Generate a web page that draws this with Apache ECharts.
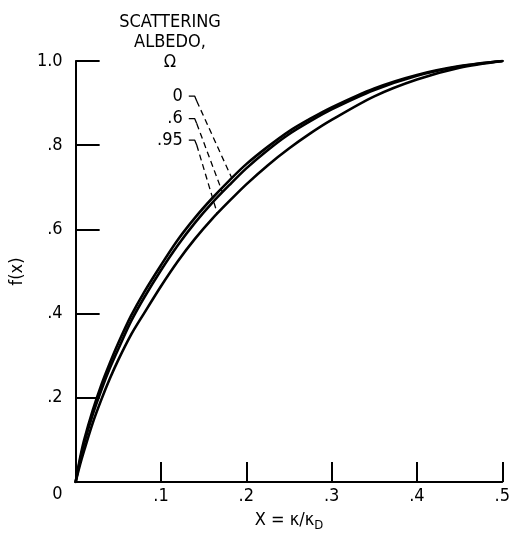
<!DOCTYPE html>
<html>
<head>
<meta charset="utf-8">
<script src="https://cdn.jsdelivr.net/npm/echarts@6/dist/echarts.min.js"></script>
<style>
html,body{margin:0;padding:0;background:#fff;}
#c{width:513px;height:537px;}
</style>
</head>
<body>
<div id="c"></div>
<script>
// ---- data ----
var xValues   = [0, 0.005, 0.01, 0.02, 0.03, 0.04, 0.05, 0.065, 0.08, 0.1, 0.12, 0.14, 0.16, 0.18, 0.2, 0.225, 0.25, 0.275, 0.3, 0.35, 0.4, 0.45, 0.5];
var fOmega0   = [0, 0.055, 0.1, 0.17, 0.23, 0.282, 0.33, 0.395, 0.45, 0.515, 0.576, 0.628, 0.674, 0.716, 0.755, 0.796, 0.833, 0.863, 0.89, 0.935, 0.967, 0.988, 1.0];
var fOmega06  = [0, 0.05, 0.092, 0.16, 0.218, 0.27, 0.316, 0.382, 0.437, 0.503, 0.563, 0.616, 0.663, 0.705, 0.745, 0.788, 0.826, 0.857, 0.885, 0.931, 0.965, 0.987, 1.0];
var fOmega095 = [0, 0.04, 0.075, 0.14, 0.195, 0.245, 0.29, 0.35, 0.40, 0.465, 0.525, 0.578, 0.625, 0.667, 0.707, 0.752, 0.792, 0.828, 0.86, 0.916, 0.956, 0.984, 1.0];
var seriesNames = ['0', '.6', '.95'];
var leaderEndX   = [0.183, 0.172, 0.166];    // where each dashed leader meets its curve
var leaderStartX = [0.1326, 0.1326, 0.1326]; // label hook start (data units)
var leaderStartY = [0.9165, 0.863, 0.812];
var xTicks = [0, 0.1, 0.2, 0.3, 0.4, 0.5];
var yTicks = [0, 0.2, 0.4, 0.6, 0.8, 1.0];
var titleLines = ['SCATTERING', 'ALBEDO,', 'Ω'];

var FONT = "'Liberation Sans Narrow','DejaVu Sans Condensed','Liberation Sans',sans-serif";
var curves = [fOmega0, fOmega06, fOmega095];

function pairs(ys){ return xValues.map(function(x,i){ return [x, ys[i]]; }); }
function valueAt(ys, x){
  for (var i = 0; i < xValues.length - 1; i++) {
    if (x >= xValues[i] && x <= xValues[i+1]) {
      var t = (x - xValues[i]) / (xValues[i+1] - xValues[i]);
      return ys[i] + t * (ys[i+1] - ys[i]);
    }
  }
  return ys[ys.length - 1];
}

var series = [];
curves.forEach(function(ys, k){
  series.push({
    name: seriesNames[k], type: 'line', data: pairs(ys), smooth: 0.3,
    showSymbol: false, symbol: 'none',
    lineStyle: { color: '#000', width: 2.6, join: 'round', cap: 'round' }, z: 3, silent: true
  });
  var sx = leaderStartX[k], sy = leaderStartY[k];
  var hx = sx + 0.007, bx = sx + 0.0093, by = sy - 0.0116;
  series.push({
    type: 'line', data: [[sx, sy], [hx, sy], [bx, by]], showSymbol: false, symbol: 'none',
    lineStyle: { color: '#000', width: 1.3 }, z: 2, silent: true
  });
  series.push({
    type: 'line', data: [[bx, by], [leaderEndX[k], valueAt(ys, leaderEndX[k])]],
    showSymbol: false, symbol: 'none',
    lineStyle: { color: '#000', width: 1.3, type: [6, 4] }, z: 2, silent: true
  });
});

var chart = echarts.init(document.getElementById('c'), null, { renderer: 'canvas' });
var option = {
  animation: false,
  backgroundColor: '#fff',
  grid: { left: 74, right: 9, top: 61, bottom: 46, containLabel: false },
  xAxis: {
    type: 'value', min: 0, max: 0.5, interval: 0.1,
    axisLine: { show: true, onZero: false, lineStyle: { color: '#000', width: 2 } },
    axisTick: { show: true, inside: true, length: 20, lineStyle: { color: '#000', width: 2 } },
    splitLine: { show: false },
    axisLabel: {
      color: '#000', fontFamily: FONT, fontSize: 18, margin: 5,
      formatter: function(v){ if (Math.abs(v) < 1e-9) return ''; return v.toFixed(1).replace(/^0/, ''); }
    },
    name: '{a|X = κ/κ}{s|D}', nameLocation: 'middle', nameGap: 27,
    nameTextStyle: {
      color: '#000', fontFamily: FONT, fontSize: 18,
      rich: {
        a: { color: '#000', fontFamily: FONT, fontSize: 18 },
        s: { color: '#000', fontFamily: FONT, fontSize: 13, padding: [10, 0, 0, 0] }
      }
    }
  },
  yAxis: {
    type: 'value', min: 0, max: 1, interval: 0.2,
    axisLine: { show: true, onZero: false, lineStyle: { color: '#000', width: 2 } },
    axisTick: { show: true, inside: true, length: 24, lineStyle: { color: '#000', width: 2 } },
    splitLine: { show: false },
    axisLabel: {
      color: '#000', fontFamily: FONT, fontSize: 18, margin: 13,
      formatter: function(v){
        if (Math.abs(v) < 1e-9) return '';
        if (Math.abs(v - 1) < 1e-9) return '1.0';
        return v.toFixed(1).replace(/^0/, '');
      }
    },
    name: 'f(x)', nameLocation: 'middle', nameGap: 46, nameRotate: 90,
    nameTextStyle: { color: '#000', fontFamily: FONT, fontSize: 18 }
  },
  series: series
};
chart.setOption(option);

// text annotations
var graphics = [];
var titleY = [22, 42, 62];
titleLines.forEach(function(t, i){
  graphics.push({ type: 'text', x: 170, y: titleY[i], silent: true,
    style: { text: t, fill: '#000', font: '18px ' + FONT, align: 'center', verticalAlign: 'middle', textAlign: 'center', textVerticalAlign: 'middle' } });
});
seriesNames.forEach(function(n, k){
  var p = chart.convertToPixel({ gridIndex: 0 }, [leaderStartX[k], leaderStartY[k]]);
  graphics.push({ type: 'text', x: p[0] - 6, y: p[1], silent: true,
    style: { text: n, fill: '#000', font: '18px ' + FONT, align: 'right', verticalAlign: 'middle', textAlign: 'right', textVerticalAlign: 'middle' } });
});
// shared origin label "0", placed below-left of the origin as in the reference
var o = chart.convertToPixel({ gridIndex: 0 }, [xTicks[0], yTicks[0]]);
graphics.push({ type: 'text', x: o[0] - 13, y: o[1] + 12, silent: true,
  style: { text: '0', fill: '#000', font: '18px ' + FONT, align: 'right', verticalAlign: 'middle', textAlign: 'right', textVerticalAlign: 'middle' } });
chart.setOption({ graphic: graphics });
</script>
</body>
</html>
